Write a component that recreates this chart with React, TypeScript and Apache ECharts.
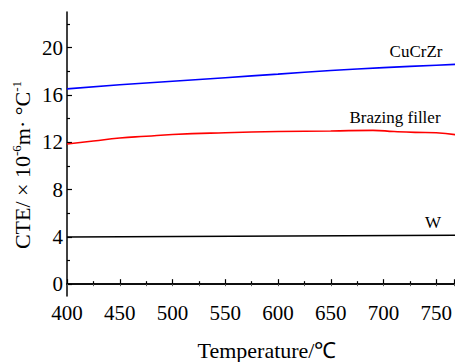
import React, { useEffect, useRef } from "react";
import * as echarts from "echarts";

const temps = [400, 425, 450, 475, 500, 550, 600, 650, 690, 710, 730, 750, 770];
const brazing = [11.85, 12.1, 12.35, 12.5, 12.65, 12.8, 12.9, 12.95, 13.0, 12.9, 12.83, 12.8, 12.6];
const cuTemps = [400, 450, 500, 550, 600, 650, 700, 750, 800];
const cucrzr = [16.5, 16.85, 17.15, 17.45, 17.75, 18.05, 18.3, 18.5, 18.7];
const wTemps = [400, 800];
const wVals = [3.98, 4.15];
const yMajor = [0, 4, 8, 12, 16, 20];
const yMinor = [2, 6, 10, 14, 18, 22];

const FONT = "Liberation Serif";

export default function App() {
  const ref = useRef<HTMLDivElement>(null);
  useEffect(() => {
    const chart = echarts.init(ref.current!, null, { renderer: "svg" });
    const pair = (xs: number[], ys: number[]) => xs.map((x, i) => [x, ys[i]]);
    chart.setOption({
      animation: false,
      backgroundColor: "#fff",
      grid: { left: 67, top: 12, right: 0, height: 284, containLabel: false },
      xAxis: [
        {
          type: "value", min: 400, max: 767, interval: 50, position: "bottom",
          axisLine: { lineStyle: { color: "#000", width: 1.5 } },
          axisTick: { inside: true, length: 5, lineStyle: { color: "#000", width: 1.2 } },
          minorTick: { show: true, splitNumber: 2, length: 3, lineStyle: { color: "#000", width: 1.2 } },
          axisLabel: { color: "#000", fontFamily: FONT, fontSize: 21, margin: 6, showMaxLabel: false },
          splitLine: { show: false },
        },
        {
          type: "value", min: 400, max: 767, interval: 25, position: "top",
          axisLine: { lineStyle: { color: "#000", width: 1.5 } },
          axisTick: { inside: true, length: 2, lineStyle: { color: "#555", width: 1 } },
          axisLabel: { show: false },
          splitLine: { show: false },
        },
      ],
      yAxis: [
        {
          type: "value", min: -1, max: 23, position: "left",
          axisLine: { show: true, lineStyle: { color: "#000", width: 1.5 } },
          axisTick: { inside: true, length: 5, customValues: yMajor, lineStyle: { color: "#000", width: 1.2 } },
          axisLabel: { color: "#000", fontFamily: FONT, fontSize: 21, margin: 4, customValues: yMajor },
          splitLine: { show: false },
        },
        {
          type: "value", min: -1, max: 23, position: "left",
          axisLine: { show: false },
          axisTick: { inside: true, length: 3, customValues: yMinor, lineStyle: { color: "#000", width: 1.2 } },
          axisLabel: { show: false, customValues: yMinor },
          splitLine: { show: false },
        },
      ],
      series: [
        { type: "line", data: pair(cuTemps, cucrzr), smooth: true, showSymbol: false, lineStyle: { color: "#0000ff", width: 1.6 } },
        { type: "line", data: pair(temps, brazing), smooth: 0.5, showSymbol: false, lineStyle: { color: "#ff0000", width: 1.6 } },
        { type: "line", data: pair(wTemps, wVals), showSymbol: false, lineStyle: { color: "#000", width: 1.6 } },
      ],
      graphic: [
        { type: "text", x: 416, y: 51, style: { text: "CuCrZr", font: `17px ${FONT}`, fill: "#000", align: "center", verticalAlign: "middle" } },
        { type: "text", x: 395, y: 117, style: { text: "Brazing filler", font: `17px ${FONT}`, fill: "#000", align: "center", verticalAlign: "middle" } },
        { type: "text", x: 433, y: 222, style: { text: "W", font: `17px ${FONT}`, fill: "#000", align: "center", verticalAlign: "middle" } },
        { type: "text", x: 267, y: 350, style: { text: "Temperature/℃", font: `22px ${FONT}`, fill: "#000", align: "center", verticalAlign: "middle" } },
        {
          type: "text", x: 22, y: 165, rotation: Math.PI / 2,
          style: {
            text: "CTE/ × 10{sup|-6}m· °C{sup|-1}",
            font: `22px ${FONT}`, fill: "#000", align: "center", verticalAlign: "middle",
            rich: { sup: { fontFamily: FONT, fontSize: 13, verticalAlign: "top", padding: [0, 0, 12, 0] } },
          },
        },
      ],
    });
    return () => chart.dispose();
  }, []);
  return <div ref={ref} style={{ position: "fixed", left: 0, top: 0, width: 455, height: 362 }} />;
}
